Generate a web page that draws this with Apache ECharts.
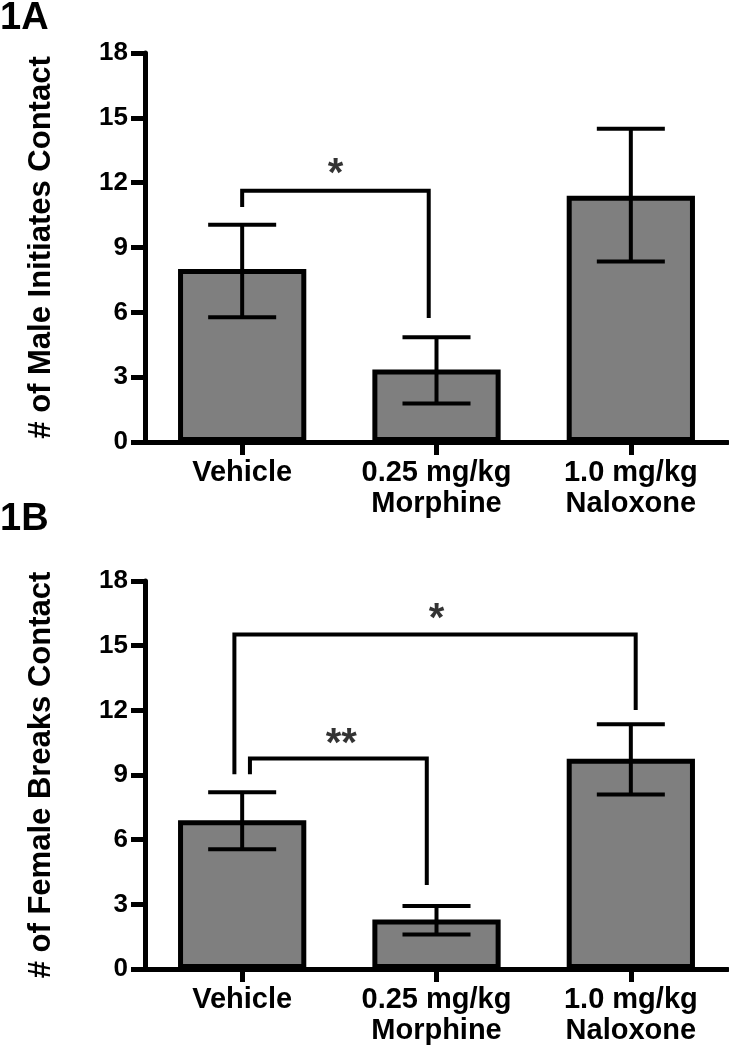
<!DOCTYPE html>
<html>
<head>
<meta charset="utf-8">
<script src="https://cdn.jsdelivr.net/npm/echarts@6/dist/echarts.min.js"></script>
<style>
  html, body { margin: 0; padding: 0; background: #fff; }
  #chart { width: 729px; height: 1050px; }
</style>
</head>
<body>
<div id="chart"></div>
<script>
// ---- data ----
const categories = ['Vehicle', '0.25 mg/kg\nMorphine', '1.0 mg/kg\nNaloxone'];
const yTicks = { min: 0, max: 18, interval: 3 };

const maleMeans = [8.0, 3.35, 11.4];
const maleLow   = [5.77, 1.78, 8.35];
const maleHigh  = [10.05, 4.85, 14.5];

const femaleMeans = [6.9, 2.3, 9.75];
const femaleLow   = [5.55, 1.6, 8.1];
const femaleHigh  = [8.2, 2.92, 11.35];

// significance brackets [categoryPosition, value]
const bracketA  = [[0.0, 10.87], [0.0, 11.63], [0.96, 11.63], [0.96, 5.74]];
const bracketB1 = [[-0.04, 9.04], [-0.04, 15.52], [2.025, 15.52], [2.025, 12.01]];
const bracketB2 = [[0.04, 9.04], [0.04, 9.77], [0.95, 9.77], [0.95, 3.9]];
const starsA = [{ name: '*', value: [0.48, 12.35] }];
const starsB = [{ name: '*', value: [1.0, 16.2] }, { name: '**', value: [0.51, 10.4] }];

const panelLabels = ['1A', '1B'];
const yTitles = ['# of Male Initiates Contact', '# of Female Breaks Contact'];

// ---- chart ----
const FONT = '"Liberation Sans", Arial, Helvetica, sans-serif';
const chart = echarts.init(document.getElementById('chart'), null, { renderer: 'canvas' });

function errData(lo, hi) { return lo.map((l, i) => [i, l, hi[i]]); }

function renderErr(params, api) {
  const x = api.value(0);
  const lo = api.coord([x, api.value(1)]);
  const hi = api.coord([x, api.value(2)]);
  const hw = api.size([1, 0])[0] * 0.175;
  const st = { stroke: '#000', lineWidth: 4 };
  return {
    type: 'group',
    children: [
      { type: 'line', shape: { x1: lo[0], y1: lo[1], x2: hi[0], y2: hi[1] }, style: st },
      { type: 'line', shape: { x1: hi[0] - hw, y1: hi[1], x2: hi[0] + hw, y2: hi[1] }, style: st },
      { type: 'line', shape: { x1: lo[0] - hw, y1: lo[1], x2: lo[0] + hw, y2: lo[1] }, style: st }
    ]
  };
}

function catAxis(gi) {
  return {
    type: 'category', gridIndex: gi, data: categories,
    axisLine: { show: true, onZero: false, lineStyle: { color: '#000', width: 5 } },
    axisTick: { show: true, alignWithLabel: true, length: 13, lineStyle: { color: '#000', width: 5 } },
    axisLabel: { interval: 0, color: '#000', fontSize: 29, fontWeight: 'bold', fontFamily: FONT, lineHeight: 31, margin: 15 },
    splitLine: { show: false }
  };
}
function hiddenX(gi) {
  return { type: 'value', gridIndex: gi, min: -0.5, max: 2.5, show: false };
}
function valAxis(gi, name) {
  return {
    type: 'value', gridIndex: gi, min: yTicks.min, max: yTicks.max, interval: yTicks.interval,
    name: name, nameLocation: 'middle', nameGap: 88,
    nameTextStyle: { color: '#000', fontSize: 31, fontWeight: 'bold', fontFamily: FONT },
    axisLine: { show: true, onZero: false, lineStyle: { color: '#000', width: 5 } },
    axisTick: { show: true, inside: false, length: 14, lineStyle: { color: '#000', width: 5 } },
    axisLabel: { color: '#000', fontSize: 26, fontWeight: 'bold', fontFamily: FONT, margin: 17 },
    splitLine: { show: false }
  };
}
function barSeries(xi, yi, data) {
  return {
    type: 'bar', xAxisIndex: xi, yAxisIndex: yi, data: data, barWidth: '66%',
    itemStyle: { color: '#7f7f7f', borderColor: '#000', borderWidth: 5 },
    silent: true, z: 2
  };
}
function errSeries(xi, yi, lo, hi) {
  return {
    type: 'custom', xAxisIndex: xi, yAxisIndex: yi, data: errData(lo, hi),
    renderItem: renderErr, encode: { x: 0, y: [1, 2] }, silent: true, z: 5
  };
}
function bracketSeries(xi, yi, data) {
  return {
    type: 'line', xAxisIndex: xi, yAxisIndex: yi, data: data, symbol: 'none',
    lineStyle: { color: '#000', width: 4, cap: 'butt', join: 'miter' }, silent: true, z: 6
  };
}
function starSeries(xi, yi, data) {
  return {
    type: 'scatter', xAxisIndex: xi, yAxisIndex: yi, data: data, symbolSize: 1,
    itemStyle: { color: 'rgba(0,0,0,0)' },
    label: { show: true, position: 'inside', formatter: p => p.name, color: '#000',
      fontSize: 40, fontWeight: 'bold', fontFamily: FONT },
    silent: true, z: 7
  };
}

const option = {
  animation: false,
  backgroundColor: '#fff',
  title: [
    { text: panelLabels[0], left: 0, top: 0, textStyle: { color: '#000', fontSize: 38, fontWeight: 'bold', fontFamily: FONT }, padding: 0 },
    { text: panelLabels[1], left: 0, top: 501, textStyle: { color: '#000', fontSize: 38, fontWeight: 'bold', fontFamily: FONT }, padding: 0 }
  ],
  grid: [
    { left: 145, right: 1, top: 53, height: 389, containLabel: false },
    { left: 145, right: 1, top: 581, height: 388, containLabel: false }
  ],
  xAxis: [catAxis(0), catAxis(1), hiddenX(0), hiddenX(1)],
  yAxis: [valAxis(0, yTitles[0]), valAxis(1, yTitles[1])],
  series: [
    barSeries(0, 0, maleMeans),
    errSeries(0, 0, maleLow, maleHigh),
    bracketSeries(2, 0, bracketA),
    starSeries(2, 0, starsA),
    barSeries(1, 1, femaleMeans),
    errSeries(1, 1, femaleLow, femaleHigh),
    bracketSeries(3, 1, bracketB1),
    bracketSeries(3, 1, bracketB2),
    starSeries(3, 1, starsB)
  ]
};
chart.setOption(option);
</script>
</body>
</html>
